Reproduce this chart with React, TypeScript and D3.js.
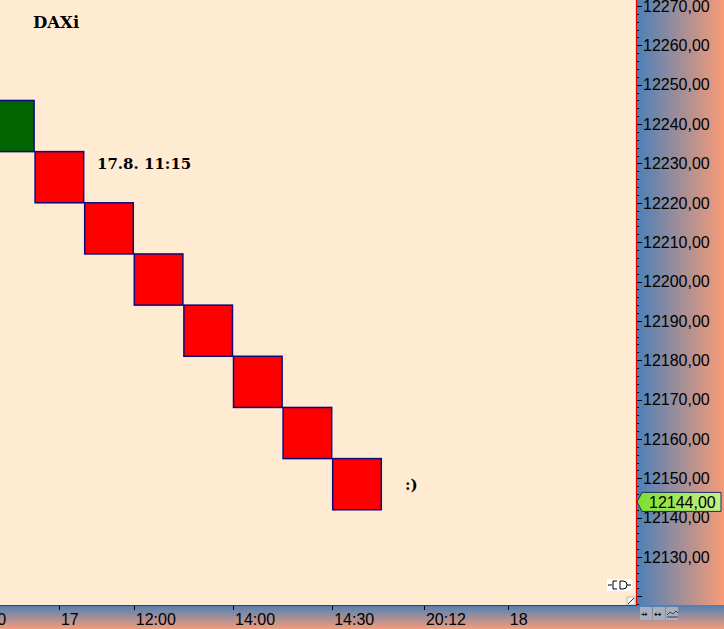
import React from "react";
import * as d3 from "d3";

const W = 724;
const H = 629;

// Renko boxes (column index, low, high, direction)
const boxColumns = [0, 1, 2, 3, 4, 5, 6, 7];
const boxLows = [12233, 12220, 12207, 12194, 12181, 12168, 12155, 12142];
const boxHighs = [12246, 12233, 12220, 12207, 12194, 12181, 12168, 12155];
const boxDirections = ["up", "down", "down", "down", "down", "down", "down", "down"];

// Right price axis labels
const priceTicks = [12130, 12140, 12150, 12160, 12170, 12180, 12190, 12200, 12210, 12220, 12230, 12240, 12250, 12260, 12270];
const lastPrice = 12144;

// Bottom time axis (position in column units)
const timeTickPos = [-0.4, 1.49, 3.0, 5.0, 7.0, 8.85, 10.54];
const timeTickLabels = ["11:00", "17", "12:00", "14:00", "14:30", "20:12", "18"];

const title = "DAXi";
const annotation = "17.8. 11:15";
const smiley = ":)";

const fmt = (v: number) => v.toFixed(2).replace(".", ",");

export default function App() {
  const plotRight = 636;
  const plotBottom = 605;
  const x = d3.scaleLinear().domain([0, 8]).range([-15, 381.8]);
  const y = d3.scaleLinear().domain([12130, 12270]).range([557, 6]);

  const minorTicks = d3.range(12118, 12274, 2);
  const boxes = boxColumns.map((c, i) => ({
    c,
    lo: boxLows[i],
    hi: boxHighs[i],
    dir: boxDirections[i],
  }));

  const lastY = y(lastPrice);

  return (
    <div style={{ position: "absolute", left: 0, top: 0, width: W, height: H }}>
      <svg width={W} height={H} style={{ display: "block" }}>
        <defs>
          <linearGradient id="rightGrad" x1="0" x2="1" y1="0" y2="0">
            <stop offset="0" stopColor="#4a80b9" />
            <stop offset="1" stopColor="#f89c77" />
          </linearGradient>
          <linearGradient id="bottomGrad" x1="0" x2="0" y1="0" y2="1">
            <stop offset="0" stopColor="#4d80b6" />
            <stop offset="1" stopColor="#f49c7a" />
          </linearGradient>
          <linearGradient id="priceGrad" x1="0" x2="1" y1="0" y2="0">
            <stop offset="0" stopColor="#7ede2c" />
            <stop offset="1" stopColor="#c6f08a" />
          </linearGradient>
          <clipPath id="plotClip">
            <rect x={0} y={0} width={plotRight} height={plotBottom} />
          </clipPath>
        </defs>

        {/* plot background */}
        <rect x={0} y={0} width={plotRight} height={plotBottom} fill="#ffebd1" />

        {/* right axis panel */}
        <rect x={plotRight} y={0} width={W - plotRight} height={H} fill="url(#rightGrad)" />
        {/* bottom axis panel */}
        <rect x={0} y={plotBottom} width={plotRight} height={H - plotBottom} fill="url(#bottomGrad)" />
        <rect x={plotRight} y={plotBottom} width={W - plotRight} height={H - plotBottom} fill="url(#bottomGrad)" />

        {/* boxes */}
        <g clipPath="url(#plotClip)">
          {boxes.map((b, i) => (
            <rect
              key={i}
              x={x(b.c) + 0.5}
              y={y(b.hi)}
              width={x(b.c + 1) - x(b.c) - 1}
              height={y(b.lo) - y(b.hi)}
              fill={b.dir === "up" ? "#006400" : "#ff0000"}
              stroke="#0a0a80"
              strokeWidth={1.5}
            />
          ))}
        </g>

        {/* texts */}
        <text x={33} y={28} fontFamily="DejaVu Serif" fontWeight="bold" fontSize={16.5} fill="#000">
          {title}
        </text>
        <text x={97} y={169} fontFamily="DejaVu Serif" fontWeight="bold" fontSize={15} fill="#000">
          {annotation}
        </text>
        <text x={405} y={490} fontFamily="DejaVu Serif" fontWeight="bold" fontSize={15} fill="#000">
          {smiley}
        </text>

        {/* small icons in plot corner */}
        <rect x={607} y={579} width={25} height={12} fill="#ffffff" />
        <g stroke="#000" strokeWidth={1} fill="none">
          <line x1={608} y1={585} x2={612} y2={585} />
          <path d="M617,581 h-4 v8 h4" />
          <path d="M620,581 h3 a4,4 0 0 1 0,8 h-3 z" />
          <line x1={627} y1={585} x2={631} y2={585} />
        </g>
        <rect x={627} y={597} width={8} height={8} fill="#f4f4f4" stroke="#888" strokeWidth={0.5} />
        <line x1={628} y1={604} x2={634} y2={598} stroke="#333" strokeWidth={1} />

        {/* border lines */}
        <line x1={plotRight + 0.5} y1={0} x2={plotRight + 0.5} y2={plotBottom + 1} stroke="#e00000" strokeWidth={1.2} />
        <line x1={0} y1={plotBottom + 0.5} x2={plotRight + 1} y2={plotBottom + 0.5} stroke="#e00000" strokeWidth={1.2} />

        {/* right axis ticks */}
        <g>
          {minorTicks.map((v) => (
            <line
              key={"m" + v}
              x1={plotRight + 1}
              x2={v % 10 === 0 ? plotRight + 6 : plotRight + 3}
              y1={Math.round(y(v)) + 0.5}
              y2={Math.round(y(v)) + 0.5}
              stroke="#000"
              strokeWidth={1}
            />
          ))}
          {priceTicks.map((v) => (
            <text
              key={v}
              x={643}
              y={y(v)}
              dy="0.36em"
              fontFamily="Liberation Sans"
              fontSize={16}
              fill="#000"
            >
              {fmt(v)}
            </text>
          ))}
        </g>

        {/* current price label */}
        <path
          d={`M${plotRight + 1},${lastY} L${642},${lastY - 9.5} H${721} V${lastY + 9.5} H${642} Z`}
          fill="url(#priceGrad)"
          stroke="#1a2a6a"
          strokeWidth={1}
        />
        <text x={649} y={lastY} dy="0.36em" fontFamily="Liberation Sans" fontSize={16} fill="#000">
          {fmt(lastPrice)}
        </text>

        {/* bottom axis ticks */}
        <g>
          {timeTickPos.map((p, i) => (
            <g key={i}>
              <line
                x1={Math.round(x(p)) + 0.5}
                x2={Math.round(x(p)) + 0.5}
                y1={plotBottom + 1}
                y2={plotBottom + 5}
                stroke="#000"
              />
              <text x={x(p) + 2} y={625} fontFamily="Liberation Sans" fontSize={16} fill="#000">
                {timeTickLabels[i]}
              </text>
            </g>
          ))}
        </g>

        {/* bottom-right buttons */}
        {[0, 1, 2].map((k) => (
          <rect key={k} x={640 + k * 13} y={607} width={12} height={13} fill="#a9b0bd" />
        ))}
        <text x={641} y={617} fontFamily="DejaVu Sans" fontSize={8} fill="#000">⇸</text>
        <text x={654} y={617} fontFamily="DejaVu Sans" fontSize={9} fill="#000">↔</text>
        <path d="M667,615 l3,-3 l3,2 l3,-3 l2,2 M667,617 h11" stroke="#222" fill="none" strokeWidth={0.8} />
      </svg>
    </div>
  );
}
